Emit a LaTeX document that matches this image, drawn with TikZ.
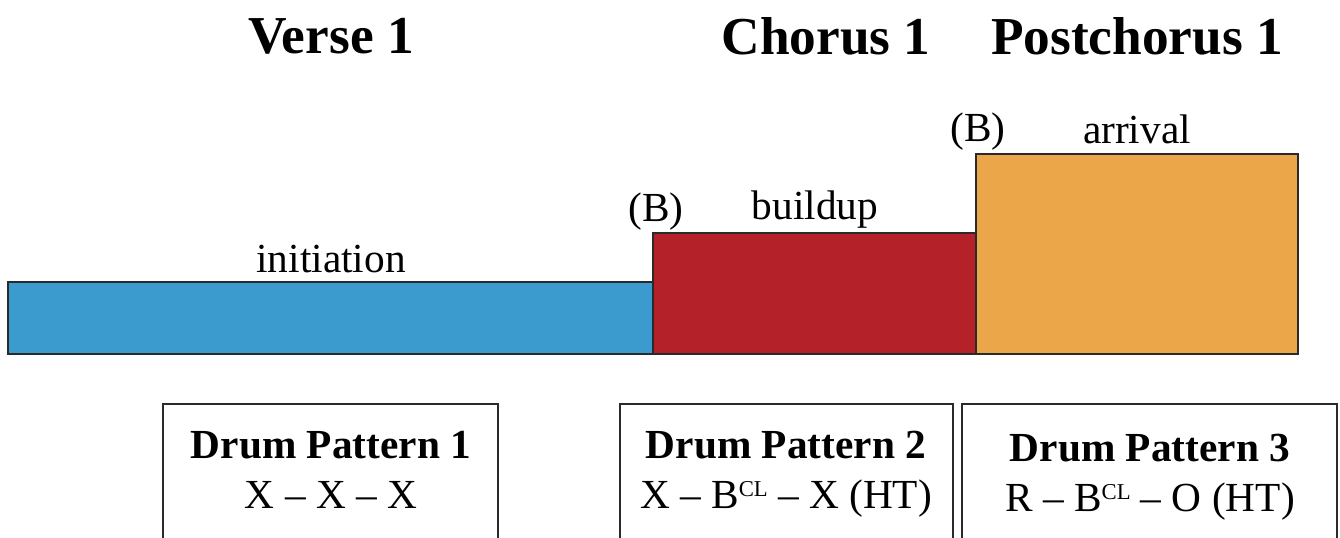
\documentclass[tikz,border=0pt]{standalone}
\usepackage{fontspec}
\setmainfont{Liberation Serif}
\definecolor{cblue}{HTML}{3C9BCE}
\definecolor{cred}{HTML}{B42129}
\definecolor{corange}{HTML}{EBA64A}
\definecolor{edge}{HTML}{2A2A2A}
\newcommand{\supcl}{\raisebox{8.5pt}{\fontsize{17}{20}\selectfont CL}}
\begin{document}
\begin{tikzpicture}[x=0.75pt,y=-0.75pt,
  bar/.style={draw=edge,line width=1.1pt},
  title/.style={font=\fontsize{40}{44}\selectfont\bfseries,inner sep=0pt},
  lab/.style={font=\fontsize{31}{36}\selectfont,inner sep=0pt},
  pbox/.style={draw=edge,line width=1pt},
  ptext/.style={font=\fontsize{31}{38}\selectfont,align=center,inner sep=0pt}]
\useasboundingbox (0,0) rectangle (1340,537);
\clip (0,0) rectangle (1340,537);
% bars
\path[bar,fill=cblue] (8,282) rectangle (653,354) coordinate (blueBR);
\path[bar,fill=cred] (653,233) rectangle (976,354) coordinate (redBR);
\path[bar,fill=corange] (976,154) rectangle (1298,354) coordinate (orangeBR);
% titles
\node[title] (t1) at (331,36) {Verse 1};
\node[title] (t2) at (826,36) {Chorus 1};
\node[title] (t3) at (1137,36) {Postchorus 1};
% labels
\node[lab,anchor=base] (l1) at (331,272) {initiation};
\node[lab,anchor=base] (b1) at (656,221) {(B)};
\node[lab,anchor=base] (l2) at (815,219) {buildup};
\node[lab,anchor=base] (b2) at (978,141) {(B)};
\node[lab,anchor=base] (l3) at (1137,143) {arrival};
% pattern boxes
\draw[pbox] (163,404) rectangle (498,560);
\draw[pbox] (620,404) rectangle (953,560);
\draw[pbox] (962,404) rectangle (1337,560);
\node[ptext,anchor=base] (p1a) at (331,458) {\textbf{Drum Pattern 1}};
\node[ptext,anchor=base] (p1b) at (331,508) {X – X – X};
\node[ptext,anchor=base] (p2a) at (786,458) {\textbf{Drum Pattern 2}};
\node[ptext,anchor=base] (p2b) at (786,508) {X – B\supcl{} – X (HT)};
\node[ptext,anchor=base] (p3a) at (1150,461) {\textbf{Drum Pattern 3}};
\node[ptext,anchor=base] (p3b) at (1150,511) {R – B\supcl{} – O (HT)};
\end{tikzpicture}
\end{document}
